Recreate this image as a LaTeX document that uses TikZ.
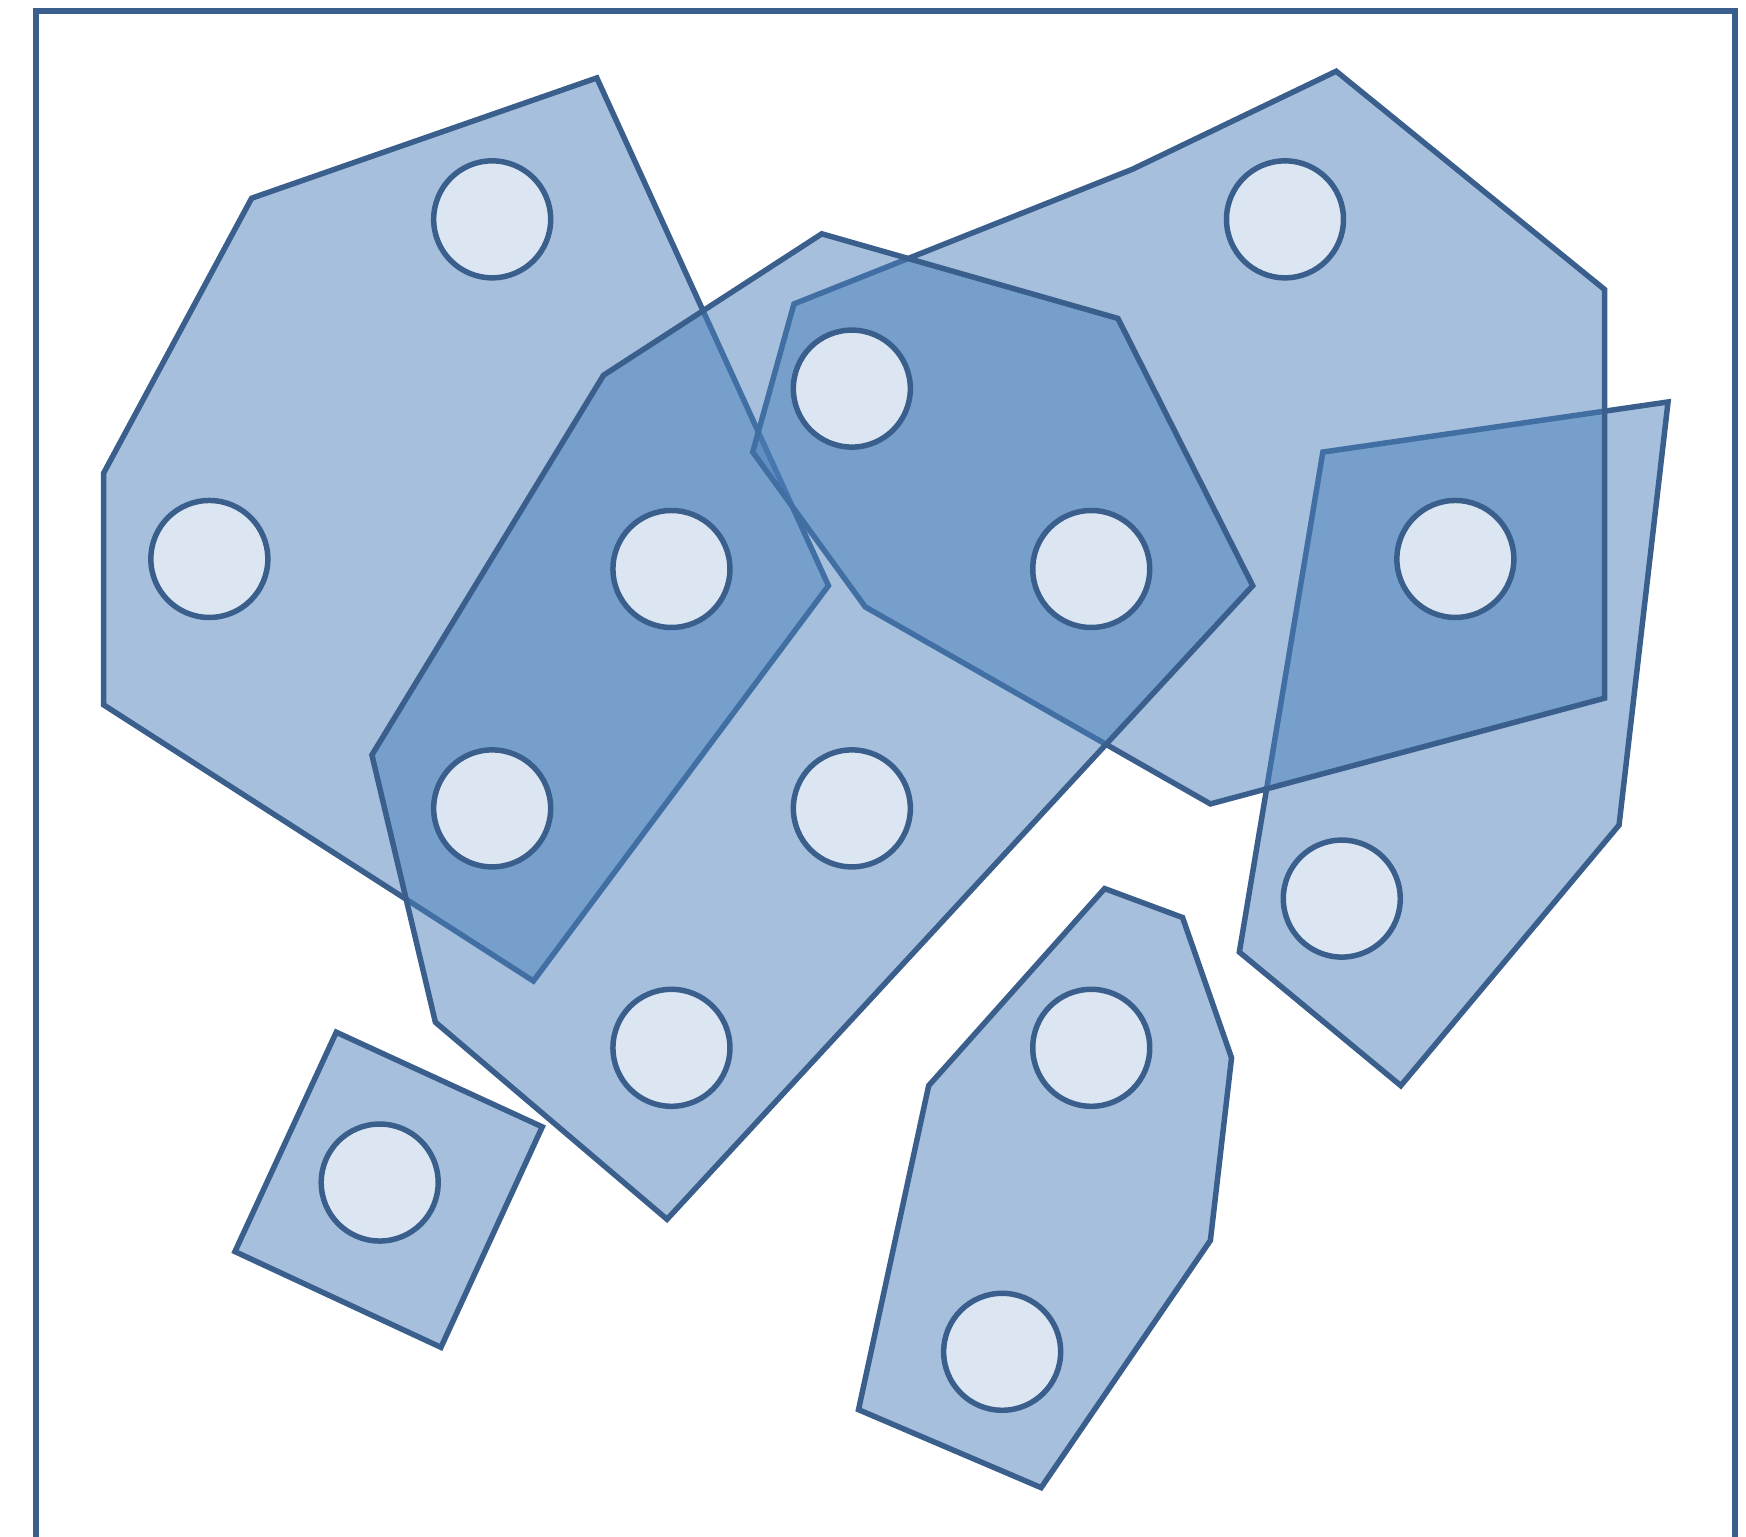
\documentclass[tikz,border=0pt]{standalone}
\usepackage{tikz}
\definecolor{edgeB}{RGB}{58,95,140}
\definecolor{fillB}{RGB}{75,128,187}
\definecolor{siteF}{RGB}{220,230,242}
\tikzset{
  cell/.style={draw=edgeB, fill=fillB, fill opacity=0.5, line width=1.4pt},
  siteD/.style={circle, draw=edgeB, fill=siteF, line width=1.4pt,
                minimum size=#1, inner sep=0pt},
  siteD/.default=1.05cm}

\begin{document}
\begin{tikzpicture}[x=0.01cm, y=-0.01cm]
  \useasboundingbox (0,0) rectangle (1568,1380);
  % frame, open at the bottom
  \draw[edgeB, line width=1.4pt] (32.5,1420) |- (1558,10) -- (1558,1420);
  % left hexagon
  \draw[cell] (226,178) -- (536,70) -- (744,526) -- (479,881) -- (93,633) -- (93,425) -- cycle;
  % right kite
  \draw[cell] (1188,406) -- (1498,361) -- (1454,741) -- (1258,975) -- (1113,855) -- cycle;
  % top right
  \draw[cell] (713,273) -- (1017,152) -- (1200,64) -- (1441,260) -- (1441,627)
    -- (1087,722) -- (777,545) -- (676,406) -- cycle;
  % long middle one
  \draw[cell] (738,210) -- (1004,286) -- (1125,526) -- (599,1095) -- (391,918)
    -- (334,678) -- (542,337) -- cycle;
  % bottom middle
  \draw[cell] (992,798) -- (1062,824) -- (1106,950) -- (1087,1114) -- (935,1336)
    -- (771,1266) -- (834,975) -- cycle;
  % small square
  \draw[cell] (302,927) -- (487,1012) -- (396,1210) -- (211,1124) -- cycle;
  % sites
  \foreach \x/\y [count=\n] in {442/197, 188/502, 603/511, 442/726, 765/349, 980/511,
      765/726, 603/941, 1154/197, 1307/502, 1205/807, 980/941, 900/1214, 341/1062}{
    \node[siteD] (s\n) at (\x,\y) {};}
\end{tikzpicture}
\end{document}
